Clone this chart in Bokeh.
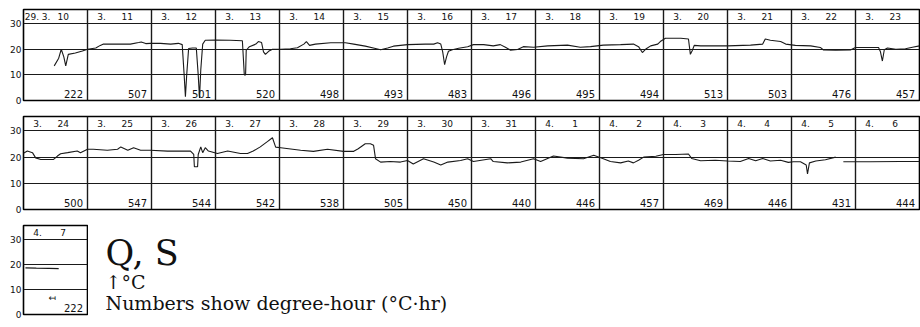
import numpy as np
from bokeh.plotting import figure
from bokeh.layouts import column, row
from bokeh.models import Range1d, FixedTicker, ColumnDataSource
from bokeh.core.properties import value
from bokeh.embed import file_html
from bokeh.resources import INLINE

# ---- day headers (month part, day part) ----
row1_month = ["29. 3."] + ["3."] * 13
row1_day = ["10", "11", "12", "13", "14", "15", "16", "17", "18", "19", "20", "21", "22", "23"]
row2_month = ["3."] * 8 + ["4."] * 6
row2_day = ["24", "25", "26", "27", "28", "29", "30", "31", "1", "2", "3", "4", "5", "6"]
row3_month = ["4."]
row3_day = ["7"]

# ---- daily degree-hours (°C·hr) ----
row1_dh = [222, 507, 501, 520, 498, 493, 483, 496, 495, 494, 513, 503, 476, 457]
row2_dh = [500, 547, 544, 542, 538, 505, 450, 440, 446, 457, 469, 446, 431, 444]
row3_dh = [222]

# ---- temperature record: time in days from 0:00 of the row's first day, °C ----
row1_time = [0.48, 0.55, 0.59, 0.63, 0.66, 0.70, 0.81, 0.92, 1.00,
             1.13, 1.20, 1.25, 1.44, 1.67, 1.80, 1.84, 1.91, 1.98,
             2.14, 2.30, 2.42, 2.48, 2.51, 2.53, 2.55, 2.58, 2.64, 2.70, 2.73, 2.75, 2.77, 2.80, 2.84,
             3.00, 3.23, 3.42, 3.45, 3.47, 3.48, 3.53, 3.63, 3.67, 3.72, 3.75, 3.78, 3.83, 3.89,
             4.02, 4.17, 4.28, 4.38, 4.42, 4.47, 4.56, 4.80,
             5.03, 5.16, 5.34, 5.50, 5.58, 5.69, 5.78,
             6.00, 6.28, 6.41, 6.47, 6.52, 6.55, 6.58, 6.61, 6.64, 6.70, 6.80, 6.94,
             7.03, 7.19, 7.34, 7.45, 7.53, 7.61, 7.72, 7.81, 7.97,
             8.19, 8.50, 8.70, 8.86,
             9.06, 9.33, 9.53, 9.61, 9.67, 9.73, 9.80, 9.91, 9.95,
             10.03, 10.27, 10.39, 10.42, 10.45, 10.48, 10.58,
             11.00, 11.36, 11.55, 11.59, 11.67, 11.83, 11.91,
             12.06, 12.30, 12.45, 12.50, 12.69, 12.92,
             13.00, 13.16, 13.36, 13.39, 13.42, 13.45, 13.50, 13.63, 13.78, 13.89, 14.00]
row1_temp = [13.5, 16.5, 20.0, 17.0, 13.5, 18.0, 18.5, 19.3, 20.0,
             20.5, 21.5, 22.0, 22.0, 22.0, 22.6, 22.8, 22.2, 22.3,
             22.3, 22.0, 22.3, 21.8, 10.0, 1.5, 10.0, 20.3, 20.5, 20.5, 10.0, 1.0, 12.0, 22.0, 23.5,
             23.6, 23.5, 23.3, 10.0, 10.0, 19.6, 21.0, 22.0, 23.0, 22.6, 19.0, 18.0, 19.2, 20.0,
             20.0, 20.2, 20.6, 22.0, 23.0, 21.5, 22.0, 22.5,
             22.5, 22.0, 21.2, 20.3, 19.8, 20.5, 21.2,
             21.8, 22.0, 22.0, 22.5, 22.0, 19.0, 14.0, 17.0, 19.2, 19.8, 20.4, 21.0,
             21.8, 21.8, 21.3, 21.8, 20.8, 19.6, 19.9, 21.0, 20.8,
             21.3, 21.6, 20.8, 21.0,
             21.6, 21.8, 22.0, 21.0, 18.7, 20.2, 21.3, 22.0, 23.0,
             24.3, 24.3, 24.0, 18.0, 19.5, 21.5, 21.3,
             21.3, 21.6, 22.0, 24.0, 23.5, 23.0, 22.0,
             21.5, 21.3, 20.7, 19.7, 19.6, 19.7,
             20.7, 20.7, 20.7, 19.0, 15.4, 19.8, 20.5, 20.0, 20.2, 20.8, 21.3]

row2_time = [0.00, 0.06, 0.14, 0.19, 0.27, 0.47, 0.53, 0.58, 0.69, 0.84, 0.89,
             1.00, 1.09, 1.31, 1.47, 1.52, 1.63, 1.72, 1.83, 1.98,
             2.25, 2.61, 2.66, 2.67, 2.72, 2.73, 2.77, 2.80, 2.84, 2.89,
             3.03, 3.19, 3.39, 3.50, 3.59, 3.70, 3.81, 3.89, 3.94,
             4.02, 4.33, 4.53, 4.75,
             5.00, 5.16, 5.23, 5.34, 5.42, 5.47, 5.50, 5.58, 5.73, 5.89,
             6.00, 6.09, 6.25, 6.41, 6.52, 6.63, 6.83, 6.94,
             7.03, 7.30, 7.34, 7.56, 7.77, 7.97,
             8.08, 8.28, 8.50, 8.75, 8.91,
             9.06, 9.17, 9.33, 9.45, 9.53, 9.61, 9.69, 9.88,
             10.00, 10.19, 10.39, 10.44, 10.58, 10.81,
             11.00, 11.20, 11.33, 11.44, 11.55, 11.67, 11.83, 11.95,
             12.03, 12.14, 12.23, 12.25, 12.28, 12.38, 12.53, 12.69, 12.72,
             12.81, 13.23, 13.70, 14.00]
row2_temp = [21.5, 22.3, 21.7, 19.7, 19.1, 19.1, 20.4, 21.3, 21.7, 22.3, 21.7,
             23.0, 23.0, 22.6, 23.0, 23.9, 22.6, 23.6, 22.6, 22.6,
             22.3, 22.3, 21.0, 16.3, 16.3, 21.0, 23.9, 21.7, 23.6, 22.3,
             21.4, 22.3, 21.4, 21.4, 22.3, 23.9, 25.9, 27.4, 23.8,
             23.6, 22.6, 22.2, 23.0,
             22.2, 22.2, 23.2, 25.1, 25.1, 24.5, 19.4, 18.1, 18.3, 18.1,
             18.7, 17.4, 19.4, 18.1, 17.0, 18.1, 18.7, 19.4,
             18.3, 19.4, 18.3, 17.8, 18.1, 19.4,
             18.3, 20.4, 19.6, 19.4, 20.7,
             19.4, 18.3, 17.8, 18.5, 17.8, 18.8, 20.0, 20.3,
             21.0, 21.0, 21.2, 19.5, 18.6, 18.8,
             18.5, 18.3, 19.5, 18.6, 19.5, 18.5, 18.8, 18.0,
             18.2, 18.2, 17.0, 13.6, 17.8, 18.5, 19.0, 20.0, np.nan,
             18.2, 18.2, 18.3, 18.3]

row3_time = [0.03, 0.20, 0.40, 0.55]
row3_temp = [18.6, 18.5, 18.4, 18.3]

HAND = value("DejaVu Sans")
SERIF = value("DejaVu Serif")
DAY_PX = 64
LEFT = 23


def day_strip(months, days, dh, t, temp, top, frame_h, bottom, y_top=35.5, marker=None):
    n = len(days)
    p = figure(width=LEFT + DAY_PX * n + 1, height=top + frame_h + bottom,
               x_range=Range1d(0, n), y_range=Range1d(0, y_top),
               x_axis_location=None, output_backend="svg", toolbar_location=None,
               min_border_left=LEFT, min_border_right=1,
               min_border_top=top, min_border_bottom=bottom,
               background_fill_color="white", border_fill_color="white")
    p.outline_line_color = "black"
    p.outline_line_width = 1.6

    # grid: °C levels and day boundaries
    p.ygrid.ticker = FixedTicker(ticks=[10, 20, 30])
    p.ygrid.grid_line_color = "#1a1a1a"
    p.ygrid.grid_line_width = 1.2
    p.xgrid.ticker = FixedTicker(ticks=list(range(1, n)))
    p.xgrid.grid_line_color = "#1a1a1a"
    p.xgrid.grid_line_width = 1.4

    ax = p.yaxis[0]
    ax.ticker = FixedTicker(ticks=[0, 10, 20, 30])
    ax.axis_line_color = None
    ax.major_tick_line_color = None
    ax.minor_tick_line_color = None
    ax.major_tick_out = 0
    ax.major_label_standoff = 2
    ax.major_label_text_font = "DejaVu Sans"
    ax.major_label_text_font_size = "9px"
    ax.major_label_text_color = "#111"

    idx = np.arange(n)
    hdr = ColumnDataSource(dict(xm=idx + 0.22, xd=idx + 0.62, y=np.full(n, (30 + y_top) / 2),
                                m=months, d=days))
    p.text(x="xm", y="y", text="m", source=hdr, text_font=HAND, text_font_size="9px",
           text_align="center", text_baseline="middle", text_color="#111")
    p.text(x="xd", y="y", text="d", source=hdr, text_font=HAND, text_font_size="9px",
           text_align="center", text_baseline="middle", text_color="#111")

    nums = ColumnDataSource(dict(x=idx + 0.93, y=np.full(n, 1.0), s=[str(v) for v in dh]))
    p.text(x="x", y="y", text="s", source=nums, text_font=HAND, text_font_size="10px",
           text_align="right", text_baseline="bottom", text_color="#111")

    p.line(t, temp, line_color="#1a1a1a", line_width=1.1)

    if marker is not None:
        p.text(x=[marker[0]], y=[marker[1]], text=["↤"], text_font=HAND, text_font_size="9px",
               text_align="center", text_baseline="middle", text_color="#111")
    return p


p1 = day_strip(row1_month, row1_day, row1_dh, row1_time, row1_temp, top=9, frame_h=91, bottom=12)
p2 = day_strip(row2_month, row2_day, row2_dh, row2_time, row2_temp, top=4, frame_h=93, bottom=13)
p3 = day_strip(row3_month, row3_day, row3_dh, row3_time, row3_temp, top=3, frame_h=89, bottom=13,
               marker=(0.45, 6.5))

# caption block beside the last day
cap_w = 920 - p3.width
p4 = figure(width=cap_w, height=p3.height, x_range=Range1d(0, cap_w), y_range=Range1d(0, p3.height),
            x_axis_location=None, y_axis_location=None, output_backend="svg", toolbar_location=None,
            min_border=0, outline_line_color=None)
p4.grid.visible = False
p4.text(x=[17], y=[72], text=["Q, S"], text_font=SERIF, text_font_size="35px",
        text_baseline="alphabetic", text_color="#111")
p4.text(x=[17], y=[38], text=["↑°C"], text_font=SERIF, text_font_size="19px",
        text_baseline="alphabetic", text_color="#111")
p4.text(x=[17], y=[13], text=["Numbers show degree-hour (°C·hr)"], text_font=SERIF,
        text_font_size="19px", text_baseline="alphabetic", text_color="#111")

layout = column(p1, p2, row(p3, p4, spacing=0), spacing=0)
open("out.html", "w").write(file_html(layout, INLINE))
